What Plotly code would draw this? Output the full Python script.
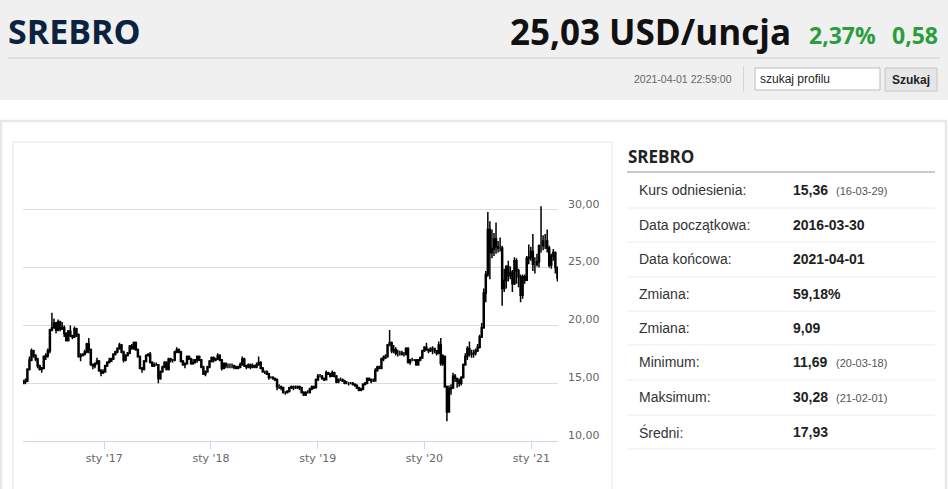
import pandas as pd
import plotly.graph_objects as go

# ---------------- data (weekly candles) ----------------
start_date = "2016-03-30"
first_open = 15.0

close = [
    15.1, 15.2, 16.2, 17.0, 17.8, 17.4, 17.1, 16.5, 16.2, 16.3,
    17.3, 17.4, 17.8, 19.6, 19.8, 20.2, 19.6, 20.3, 19.7, 19.8,
    19.3, 18.7, 19.5, 19.1, 19.0, 19.7, 19.2, 17.3, 17.4, 17.5,
    17.7, 18.4, 17.9, 16.6, 16.5, 16.7, 16.9, 16.1, 15.9, 16.0,
    # 2017
    16.5, 16.8, 16.9, 17.1, 17.5, 17.7, 18.0, 18.3, 17.7, 17.0,
    17.4, 17.6, 18.2, 18.0, 18.5, 17.9, 17.3, 16.3, 16.2, 16.9,
    17.4, 17.5, 16.8, 16.5, 16.6, 16.6, 15.4, 16.0, 16.4, 16.8,
    16.2, 17.1, 17.0, 17.0, 17.7, 17.9, 17.7, 16.9, 16.6, 16.7,
    17.3, 17.1, 16.7, 16.8, 17.0, 17.3, 17.0, 16.4, 15.8, 16.0,
    16.4, 16.9,
    # 2018
    17.2, 17.0, 17.1, 17.4, 17.0, 16.3, 16.7, 16.5, 16.5, 16.5,
    16.5, 16.4, 16.3, 16.4, 16.6, 17.1, 16.5, 16.4, 16.6, 16.4,
    16.5, 16.4, 16.6, 16.8, 16.3, 16.0, 16.0, 15.8, 15.5, 15.5,
    15.4, 15.3, 14.7, 14.7, 14.6, 14.2, 14.2, 14.3, 14.6, 14.7,
    14.6, 14.6, 14.7, 14.6, 14.2, 14.0, 14.2, 14.2, 14.5, 14.7,
    14.6, 15.3,
    # 2019
    15.6, 15.6, 15.4, 15.3, 15.9, 15.8, 15.6, 15.9, 15.6, 15.1,
    15.3, 15.3, 15.2, 15.0, 15.0, 15.0, 15.0, 14.9, 14.8, 14.6,
    14.4, 14.5, 14.9, 15.0, 15.4, 15.3, 15.2, 15.2, 16.1, 16.4,
    16.3, 17.1, 17.2, 17.3, 18.3, 18.5, 17.8, 17.9, 17.6, 17.6,
    17.6, 17.5, 17.5, 18.0, 16.8, 17.0, 17.0, 17.0, 16.6, 17.0,
    17.2, 17.8,
    # 2020
    18.1, 17.9, 17.8, 18.0, 18.0, 17.8, 17.6, 18.3, 16.7, 17.3,
    14.7, 12.5, 14.5, 14.6, 15.6, 15.4, 15.2, 15.0, 15.5, 16.6,
    17.3, 18.0, 17.5, 17.5, 17.6, 17.8, 18.1, 19.0, 19.8, 22.8,
    24.4, 28.3, 26.3, 26.6, 27.5, 26.8, 26.7, 26.7, 23.2, 23.9,
    25.1, 24.3, 24.6, 23.6, 25.6, 24.7, 24.2, 22.6, 24.2, 23.9,
    25.8, 25.9,
    # 2021
    26.4, 25.3, 25.3, 25.5, 26.9, 26.9, 27.3, 27.3, 26.7, 25.2,
    26.0, 26.3, 25.0, 24.1,
]

high = [
    15.3, 15.4, 16.3, 17.3, 18.0, 17.9, 17.5, 17.2, 16.6, 16.4,
    17.4, 17.6, 18.0, 19.7, 21.1, 20.6, 20.3, 20.5, 20.4, 20.3,
    20.0, 19.4, 19.6, 20.0, 19.2, 19.9, 19.8, 19.3, 17.6, 17.6,
    17.9, 18.5, 18.9, 18.0, 16.7, 16.8, 17.2, 17.0, 16.2, 16.2,
    # 2017
    16.6, 16.9, 17.2, 17.2, 17.6, 17.8, 18.1, 18.5, 18.4, 17.8,
    17.5, 17.7, 18.3, 18.4, 18.6, 18.6, 18.0, 17.4, 16.4, 17.0,
    17.5, 17.6, 17.7, 16.9, 16.8, 16.8, 16.6, 16.1, 16.5, 16.9,
    16.9, 17.2, 17.2, 17.1, 17.8, 18.1, 18.0, 17.8, 17.0, 16.8,
    17.4, 17.4, 17.2, 17.1, 17.1, 17.4, 17.4, 17.1, 16.5, 16.1,
    16.5, 17.0,
    # 2018
    17.3, 17.3, 17.2, 17.6, 17.5, 17.1, 16.8, 16.8, 16.7, 16.7,
    16.7, 16.6, 16.5, 16.5, 16.8, 17.3, 17.2, 16.6, 16.7, 16.7,
    16.7, 16.6, 16.8, 17.3, 16.9, 16.4, 16.1, 16.1, 15.9, 15.6,
    15.6, 15.5, 15.4, 14.9, 14.8, 14.7, 14.3, 14.4, 14.7, 14.8,
    14.8, 14.8, 14.8, 14.8, 14.7, 14.3, 14.3, 14.4, 14.6, 14.8,
    14.8, 15.4,
    # 2019
    15.8, 15.8, 15.7, 15.5, 16.1, 16.0, 15.9, 16.1, 16.0, 15.7,
    15.4, 15.5, 15.4, 15.3, 15.2, 15.1, 15.1, 15.1, 15.0, 14.9,
    14.7, 14.6, 15.0, 15.1, 15.5, 15.5, 15.4, 15.4, 16.3, 16.5,
    16.5, 17.2, 17.4, 17.5, 18.4, 19.6, 18.6, 18.3, 18.1, 17.9,
    17.8, 17.8, 17.7, 18.1, 18.1, 17.1, 17.2, 17.1, 17.1, 17.1,
    17.3, 17.9,
    # 2020
    18.2, 18.5, 18.0, 18.1, 18.2, 18.0, 17.8, 18.6, 18.9, 17.5,
    17.4, 14.8, 14.8, 14.9, 15.9, 15.8, 15.4, 15.4, 15.6, 16.7,
    17.6, 18.2, 18.6, 17.9, 17.9, 18.0, 18.4, 19.2, 20.2, 23.2,
    24.7, 29.8, 29.0, 28.3, 28.0, 28.9, 27.3, 27.6, 26.9, 24.9,
    25.2, 25.6, 25.1, 24.8, 25.9, 25.8, 24.9, 24.4, 24.4, 24.4,
    26.0, 27.0,
    # 2021
    26.8, 27.9, 25.9, 26.2, 27.0, 30.3, 27.8, 27.9, 28.3, 26.9,
    26.2, 26.6, 26.4, 25.1,
]

low = [
    14.9, 14.9, 15.1, 16.1, 16.9, 17.2, 16.9, 16.3, 16.1, 15.9,
    16.2, 17.0, 17.2, 17.6, 19.5, 19.7, 19.3, 19.5, 19.5, 19.6,
    19.0, 18.6, 18.6, 19.0, 18.8, 18.9, 19.0, 17.2, 16.9, 17.3,
    17.4, 17.6, 17.6, 16.5, 16.2, 16.3, 16.6, 16.0, 15.6, 15.8,
    # 2017
    15.9, 16.4, 16.7, 16.9, 17.0, 17.4, 17.6, 17.9, 17.6, 16.8,
    16.9, 17.3, 17.5, 17.9, 17.9, 17.8, 17.2, 16.2, 15.9, 16.1,
    16.8, 17.3, 16.7, 16.4, 16.4, 16.5, 15.0, 15.3, 15.9, 16.3,
    16.1, 16.1, 16.8, 16.8, 16.9, 17.6, 17.6, 16.8, 16.5, 16.3,
    16.6, 17.0, 16.6, 16.6, 16.7, 16.8, 16.9, 16.3, 15.7, 15.6,
    15.9, 16.3,
    # 2018
    16.8, 16.8, 16.9, 17.0, 16.9, 16.1, 16.2, 16.3, 16.3, 16.3,
    16.3, 16.2, 16.2, 16.2, 16.3, 16.5, 16.4, 16.2, 16.3, 16.2,
    16.3, 16.3, 16.3, 16.5, 16.2, 15.9, 15.8, 15.7, 15.3, 15.4,
    15.3, 15.2, 14.4, 14.5, 14.4, 14.1, 14.0, 14.1, 14.2, 14.5,
    14.4, 14.5, 14.5, 14.4, 14.1, 13.9, 13.9, 14.1, 14.1, 14.4,
    14.5, 14.6,
    # 2019
    15.2, 15.5, 15.3, 15.2, 15.3, 15.7, 15.5, 15.6, 15.5, 15.0,
    15.0, 15.2, 15.1, 14.9, 14.9, 14.8, 14.9, 14.8, 14.7, 14.5,
    14.3, 14.3, 14.4, 14.8, 14.9, 15.2, 15.0, 15.1, 15.2, 16.0,
    16.2, 16.2, 16.9, 17.1, 17.2, 18.2, 17.6, 17.6, 17.4, 17.3,
    17.4, 17.4, 17.3, 17.4, 16.7, 16.6, 16.9, 16.9, 16.5, 16.5,
    16.9, 17.1,
    # 2020
    17.7, 17.8, 17.6, 17.7, 17.5, 17.6, 17.4, 17.5, 16.5, 16.5,
    14.6, 11.7, 12.5, 14.0, 14.5, 15.1, 14.6, 14.7, 14.8, 15.4,
    16.5, 17.0, 17.3, 17.2, 17.2, 17.4, 17.7, 18.0, 18.9, 19.7,
    22.0, 24.2, 24.0, 25.8, 26.0, 26.2, 26.3, 26.4, 21.7, 22.9,
    23.2, 23.8, 24.0, 22.9, 23.5, 23.6, 23.3, 22.0, 22.3, 23.6,
    23.9, 25.3,
    # 2021
    25.6, 24.7, 24.5, 25.1, 25.0, 26.3, 26.5, 26.6, 26.3, 25.0,
    24.9, 25.6, 24.5, 23.8,
]

# each week opens at the previous week's close
open_ = [first_open] + close[:-1]
dates = pd.date_range(start_date, periods=len(close), freq="7D")

x_tick_vals = ["2017-01-01", "2018-01-01", "2019-01-01", "2020-01-01", "2021-01-01"]
x_tick_text = ["sty '17", "sty '18", "sty '19", "sty '20", "sty '21"]
y_tick_vals = [10, 15, 20, 25, 30, 35]
y_tick_text = ["10,00", "15,00", "20,00", "25,00", "30,00", ""]

title = "SREBRO"
price_text = "25,03 USD/uncja"
pct_text = "2,37%"
chg_text = "0,58"
timestamp = "2021-04-01 22:59:00"
search_placeholder = "szukaj profilu"
search_button = "Szukaj"

table_labels = ["Kurs odniesienia:", "Data początkowa:", "Data końcowa:", "Zmiana:",
                "Zmiana:", "Minimum:", "Maksimum:", "Średni:"]
table_values = ["15,36", "2016-03-30", "2021-04-01", "59,18%", "9,09", "11,69", "30,28", "17,93"]
table_notes = ["(16-03-29)", "", "", "", "", "(20-03-18)", "(21-02-01)", ""]

# ---------------- layout helpers (pixel -> paper) ----------------
W, H = 948, 489
PL, PR, PT, PB = 23, 558, 152, 441


def X(px):
    return (px - PL) / (PR - PL)


def Y(py):
    return (PB - py) / (PB - PT)


fig = go.Figure()
fig.add_trace(go.Candlestick(
    x=dates, open=open_, high=high, low=low, close=close,
    increasing=dict(line=dict(color="#000000", width=1.5), fillcolor="#ffffff"),
    decreasing=dict(line=dict(color="#000000", width=1.5), fillcolor="#0e1a2e"),
    whiskerwidth=0, hoverinfo="skip", showlegend=False,
))

shapes = []


def rect(x0, y0, x1, y1, fill=None, line=None, lw=1):
    shapes.append(dict(type="rect", xref="paper", yref="paper",
                       x0=X(x0), x1=X(x1), y0=Y(y1), y1=Y(y0),
                       fillcolor=fill if fill else "rgba(0,0,0,0)",
                       line=dict(color=line if line else "rgba(0,0,0,0)", width=lw if line else 0),
                       layer="below"))


def hline(x0, x1, y, color, lw=1):
    shapes.append(dict(type="line", xref="paper", yref="paper",
                       x0=X(x0), x1=X(x1), y0=Y(y), y1=Y(y),
                       line=dict(color=color, width=lw), layer="below"))


def vline(x, y0, y1, color, lw=1):
    shapes.append(dict(type="line", xref="paper", yref="paper",
                       x0=X(x), x1=X(x), y0=Y(y0), y1=Y(y1),
                       line=dict(color=color, width=lw), layer="below"))


# header
rect(0, 0, 948, 100, fill="#f0f0f0")
hline(8, 940, 58, "#dadada", 1.5)
vline(743.5, 66, 92, "#d6d6d6", 1)
rect(755, 68, 880, 90, fill="#ffffff", line="#bcbcbc", lw=1)
rect(885, 68, 937, 91, fill="#e6e6e6", line="#c6c6c6", lw=1)
# containers
rect(1, 121, 946, 520, line="#e8e8e8", lw=2.5)
rect(13, 142, 612, 520, line="#e4e4e4", lw=1)
# table
hline(627, 935, 172, "#c9c9c9", 2)
for sy in [208, 242, 277, 311, 345, 380, 415, 449]:
    hline(627, 935, sy, "#ececec", 1)

ann = []


def text(x, y, s, size, color, family="Liberation Sans", weight="normal", xanchor="left", yanchor="middle"):
    ann.append(dict(xref="paper", yref="paper", x=X(x), y=Y(y), text=s, showarrow=False,
                    xanchor=xanchor, yanchor=yanchor,
                    font=dict(size=size, color=color, family=family, weight=weight)))


text(6, 31, title, 34, "#0c2340", family="Open Sans", weight="bold")
text(793, 31, price_text, 35, "#111111", family="Open Sans", weight="bold", xanchor="right")
text(807, 35, pct_text, 23, "#2a9d3c", family="Open Sans", weight="bold")
text(940, 35, chg_text, 23, "#2a9d3c", family="Open Sans", weight="bold", xanchor="right")
text(734, 79, timestamp, 10.5, "#666666", xanchor="right")
text(758, 79, search_placeholder, 12, "#222222")
text(911, 79.5, search_button, 12, "#222222", weight="bold", xanchor="center")

text(626, 156, title, 17, "#222222", family="Open Sans", weight="bold")
row_y = [190, 225, 259, 294, 328, 362, 397, 432]
for lab, val, note, ry in zip(table_labels, table_values, table_notes, row_y):
    text(637, ry, lab, 14, "#333333")
    text(791, ry, val, 14, "#222222", weight="bold")
    if note:
        text(834, ry + 1, note, 11, "#555555")

fig.update_layout(
    width=W, height=H,
    margin=dict(l=PL, r=W - PR, t=PT, b=H - PB, pad=0),
    paper_bgcolor="#ffffff", plot_bgcolor="#ffffff",
    shapes=shapes, annotations=ann, showlegend=False,
    xaxis=dict(
        type="date", range=["2016-03-29", "2021-04-02"],
        tickvals=x_tick_vals, ticktext=x_tick_text,
        ticks="outside", ticklen=7, tickcolor="#ccd6eb", tickwidth=1,
        showline=True, linecolor="#ccd6eb", linewidth=1,
        showgrid=False, zeroline=False,
        rangeslider=dict(visible=False),
        tickfont=dict(family="DejaVu Sans", size=11, color="#666666"),
    ),
    yaxis=dict(
        side="right", range=[10, 35],
        tickvals=y_tick_vals, ticktext=y_tick_text,
        showgrid=True, gridcolor="#dcdcdc", gridwidth=1,
        showline=False, zeroline=False, ticks="",
        ticklabelshift=-6, ticklabelstandoff=9,
        tickfont=dict(family="DejaVu Sans", size=11, color="#666666"),
    ),
)

fig.write_html("out.html", config={"displayModeBar": False},
               post_script="document.body.style.margin='0';")
